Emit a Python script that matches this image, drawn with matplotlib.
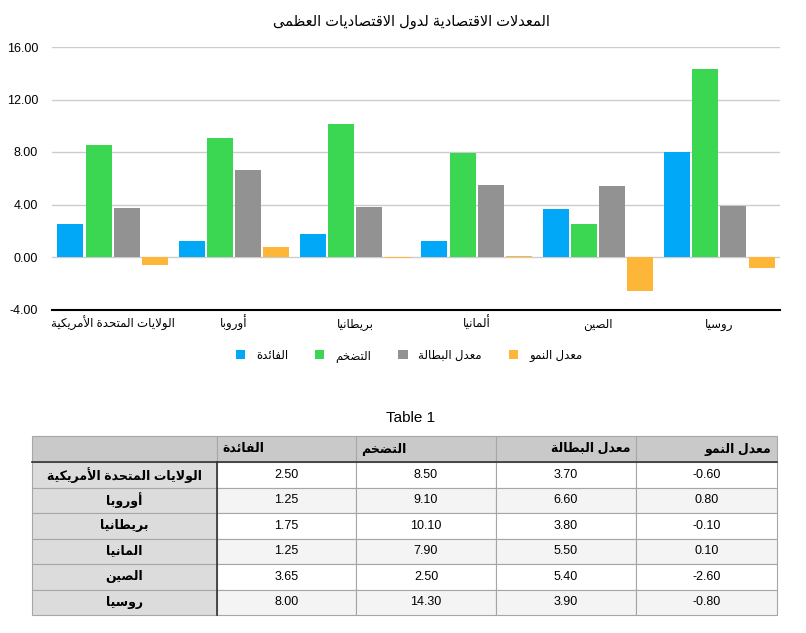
import matplotlib
matplotlib.use("Agg")
import matplotlib.pyplot as plt
import numpy as np
from matplotlib.table import Table

plt.rcParams["font.family"] = ["Liberation Sans", "DejaVu Sans"]

# DATA
countries = ["الولايات المتحدة الأمريكية", "أوروبا", "بريطانيا", "ألمانيا", "الصين", "روسيا"]
table_rows = ["الولايات المتحدة الأمريكية", "أوروبا", "بريطانيا", "المانيا", "الصين", "روسيا"]
series = ["الفائدة", "التضخم", "معدل البطالة", "معدل النمو"]
interest = [2.50, 1.25, 1.75, 1.25, 3.65, 8.00]
inflation = [8.50, 9.10, 10.10, 7.90, 2.50, 14.30]
unemployment = [3.70, 6.60, 3.80, 5.50, 5.40, 3.90]
growth = [-0.60, 0.80, -0.10, 0.10, -2.60, -0.80]
title = "المعدلات الاقتصادية لدول الاقتصاديات العظمى"
yticks = [-4, 0, 4, 8, 12, 16]

colors = ["#02a8f8", "#3bd752", "#929292", "#feb638"]


# simple arabic shaping (presentation forms + right-to-left order)
DUAL = {
    "ئ": 0xFE89, "ب": 0xFE8F, "ت": 0xFE95, "ث": 0xFE99, "ج": 0xFE9D, "ح": 0xFEA1,
    "خ": 0xFEA5, "س": 0xFEB1, "ش": 0xFEB5, "ص": 0xFEB9, "ض": 0xFEBD, "ط": 0xFEC1,
    "ظ": 0xFEC5, "ع": 0xFEC9, "غ": 0xFECD, "ف": 0xFED1, "ق": 0xFED5, "ك": 0xFED9,
    "ل": 0xFEDD, "م": 0xFEE1, "ن": 0xFEE5, "ه": 0xFEE9, "ي": 0xFEF1,
}
RIGHT = {
    "آ": 0xFE81, "أ": 0xFE83, "ؤ": 0xFE85, "إ": 0xFE87, "ا": 0xFE8D, "ة": 0xFE93,
    "د": 0xFEA9, "ذ": 0xFEAB, "ر": 0xFEAD, "ز": 0xFEAF, "و": 0xFEED, "ى": 0xFEEF,
}
LAM_ALEF = {"آ": 0xFEF5, "أ": 0xFEF7, "إ": 0xFEF9, "ا": 0xFEFB}


def ar(text):
    chars = []
    i = 0
    while i < len(text):
        c = text[i]
        if c == "ل" and i + 1 < len(text) and text[i + 1] in LAM_ALEF:
            chars.append(("R", LAM_ALEF[text[i + 1]]))
            i += 2
            continue
        if c in DUAL:
            chars.append(("D", DUAL[c]))
        elif c in RIGHT:
            chars.append(("R", RIGHT[c]))
        else:
            chars.append((None, c))
        i += 1
    out = []
    for k, (kind, base) in enumerate(chars):
        if kind is None:
            out.append(base)
            continue
        prev = k > 0 and chars[k - 1][0] == "D"
        nxt = kind == "D" and k + 1 < len(chars) and chars[k + 1][0] is not None
        if prev and nxt:
            off = 3
        elif prev:
            off = 1
        elif nxt:
            off = 2
        else:
            off = 0
        out.append(chr(base + off))
    return "".join(reversed(out))


W, H = 806, 633
fig = plt.figure(figsize=(W / 100, H / 100), dpi=100)

# CHART
ax = fig.add_axes([52 / W, 1 - 309.5 / H, 728 / W, 262.5 / H])
x = np.arange(len(countries))
width = 0.214
step = 0.233
bars = []
for i, vals in enumerate([interest, inflation, unemployment, growth]):
    b = ax.bar(x + (i - 1.5) * step, vals, width, color=colors[i], zorder=3)
    bars.append(b)

ax.set_xlim(-0.5, len(countries) - 0.5)
ax.set_ylim(-4, 16)
ax.set_yticks(yticks)
ax.set_yticklabels([f"{v:.2f}" for v in yticks], fontsize=9)
ax.set_xticks(x)
ax.set_xticklabels([ar(c) for c in countries], fontsize=8.5)
ax.tick_params(axis="both", length=0)
ax.tick_params(axis="y", pad=10)
ax.tick_params(axis="x", pad=13)
for lbl in ax.get_xticklabels():
    lbl.set_va("baseline")
ax.grid(axis="y", color="#cccccc", lw=1.0, zorder=1)
for s in ["left", "right", "top"]:
    ax.spines[s].set_visible(False)
ax.spines["bottom"].set_color("black")
ax.spines["bottom"].set_linewidth(1.5)
ax.spines["bottom"].set_zorder(4)

fig.text(411 / W, 1 - 22 / H, ar(title), ha="center", va="center", fontsize=10.5)

fig.legend(bars, [ar(s) for s in series], loc="center",
           bbox_to_anchor=(409 / W, 1 - 356 / H), ncol=4, frameon=False,
           fontsize=8.5, handlelength=0.8, handleheight=0.8,
           handletextpad=0.9, columnspacing=2.3)

# TABLE
fig.text(411 / W, 1 - 418 / H, "Table 1", ha="center", va="center", fontsize=11)
tax = fig.add_axes([32 / W, 1 - 615 / H, 745 / W, 179 / H])
tax.axis("off")
col_w = np.array([185, 139, 140, 140, 141]) / 745
head_h = 26 / 179
row_h = 25.5 / 179
tb = Table(tax, bbox=[0, 0, 1, 1])
edge = "#a6a6a6"

# header row
for j in range(5):
    if j == 0:
        txt, loc = "", "center"
    else:
        txt = ar(series[j - 1])
        loc = "left" if j <= 2 else "right"
    cell = tb.add_cell(0, j, col_w[j], head_h, text=txt, loc=loc,
                       facecolor="#c9c9c9", edgecolor=edge)
    cell.PAD = 0.04
    cell.get_text().set_fontweight("bold")

cols = [interest, inflation, unemployment, growth]
for r in range(len(table_rows)):
    cell = tb.add_cell(r + 1, 0, col_w[0], row_h, text=ar(table_rows[r]),
                       loc="center", facecolor="#dcdcdc", edgecolor=edge)
    cell.get_text().set_fontweight("bold")
    bg = "#ffffff" if r % 2 == 0 else "#f4f4f4"
    for j in range(4):
        tb.add_cell(r + 1, j + 1, col_w[j + 1], row_h, text=f"{cols[j][r]:.2f}",
                    loc="center", facecolor=bg, edgecolor=edge)

tb.auto_set_font_size(False)
tb.set_fontsize(9)
for cell in tb.get_celld().values():
    cell.set_linewidth(0.8)
tax.add_table(tb)

# darker separators under header and after row labels
yh = 1 - head_h
tax.plot([0, 1], [yh, yh], color="#333333", lw=1.2, transform=tax.transAxes, clip_on=False)
tax.plot([col_w[0], col_w[0]], [0, yh], color="#333333", lw=1.2,
         transform=tax.transAxes, clip_on=False)

fig.savefig("out.png", dpi=100)
